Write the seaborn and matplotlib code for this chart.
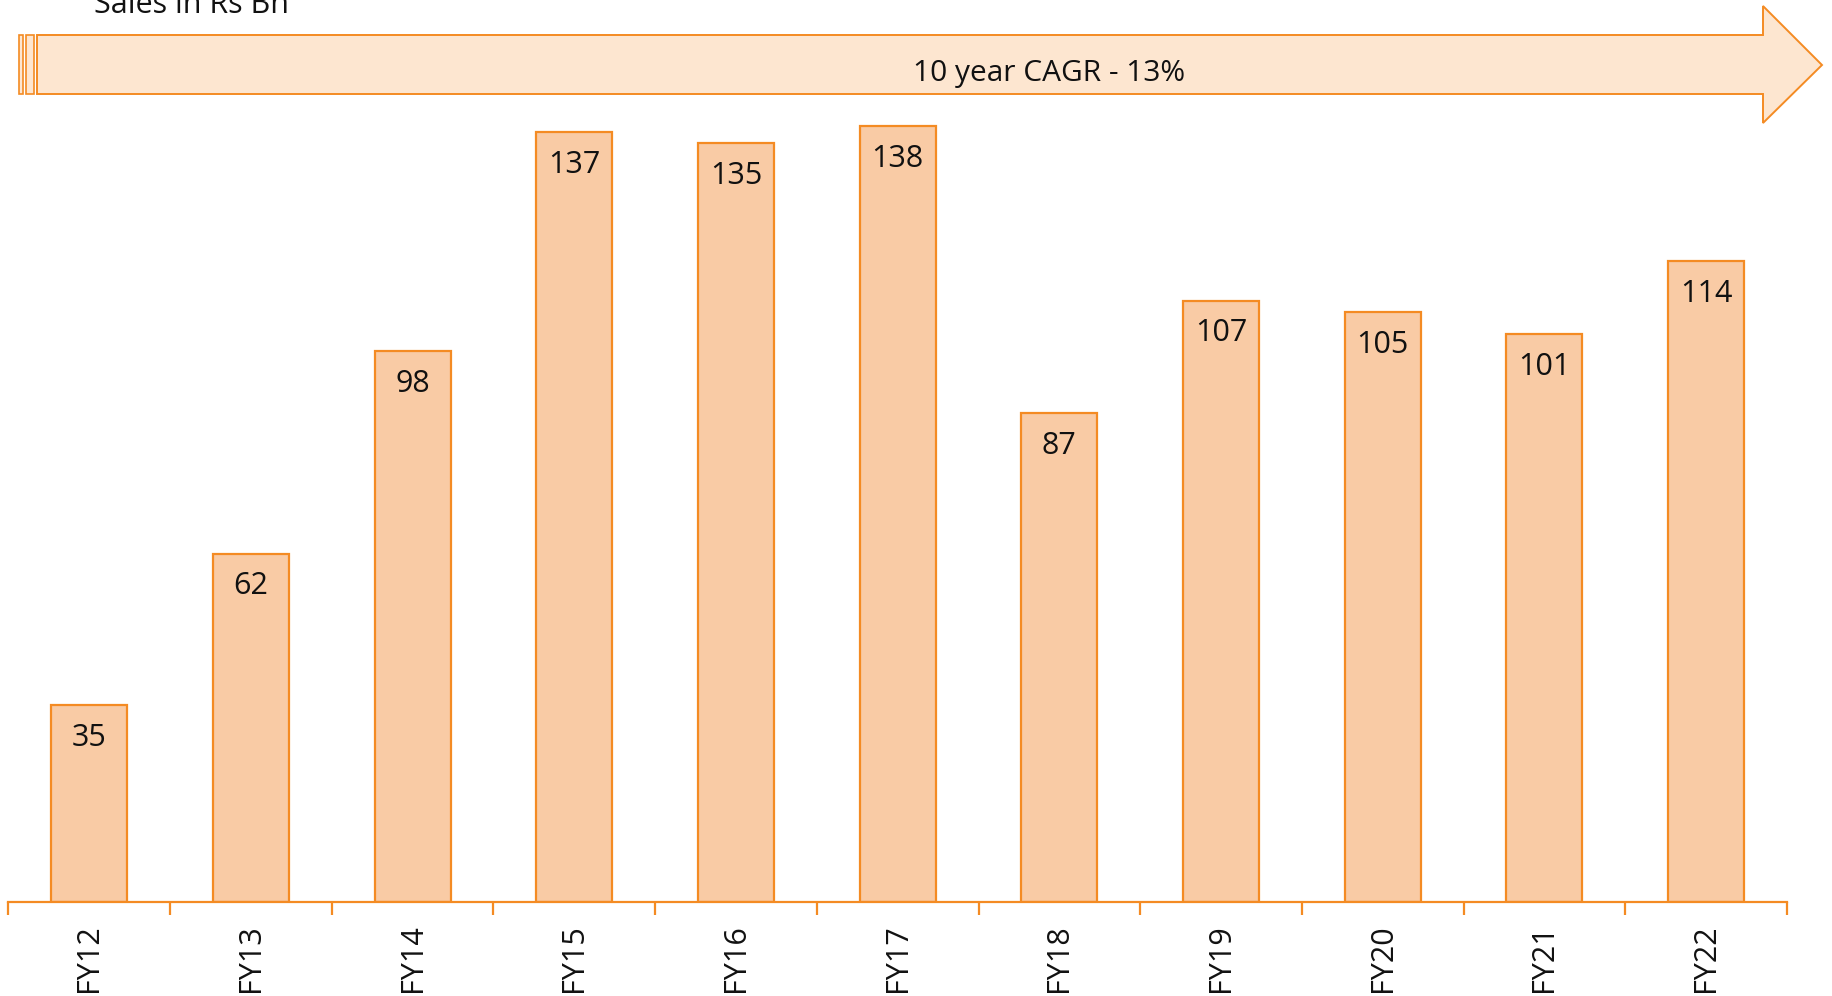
import matplotlib
matplotlib.use("Agg")
import matplotlib.pyplot as plt
import seaborn as sns
import pandas as pd
from matplotlib.patches import Polygon, Rectangle

categories = ["FY12", "FY13", "FY14", "FY15", "FY16", "FY17", "FY18", "FY19", "FY20", "FY21", "FY22"]
sales = [35, 62, 98, 137, 135, 138, 87, 107, 105, 101, 114]
title_text = "Sales in Rs Bn"
arrow_text = "10 year CAGR - 13%"

W, H = 1832, 996
sns.set_theme(style="white")
plt.rcParams['font.family'] = ['Open Sans', 'DejaVu Sans']

BAR_FILL = "#F9CBA5"
EDGE = "#F48B23"
ARROW_FILL = "#FDE6D0"

fig = plt.figure(figsize=(W / 100, H / 100), dpi=100)
ax = fig.add_axes([8.3 / W, (H - 902) / H, (1787 - 8.3) / W, 902 / H])

df = pd.DataFrame({"cat": categories, "val": sales})
sns.barplot(data=df, x="cat", y="val", ax=ax, width=0.47, color=BAR_FILL,
            edgecolor=EDGE, linewidth=1.6, saturation=1)

ax.set_xlim(-0.5, len(categories) - 0.5)
ax.set_ylim(0, 160.5)
ax.set_xlabel("")
ax.set_ylabel("")
ax.set_yticks([])
for s in ["top", "left", "right"]:
    ax.spines[s].set_visible(False)
ax.spines["bottom"].set_color(EDGE)
ax.spines["bottom"].set_linewidth(1.6)

# ticks at category boundaries, labels at centers
ax.set_xticks([i - 0.5 for i in range(len(categories) + 1)])
ax.set_xticklabels([])
ax.set_xticks(list(range(len(categories))), minor=True)
ax.set_xticklabels(categories, minor=True, rotation=90, fontsize=22, color="#111111")
ax.tick_params(axis="x", which="major", length=9, width=1.6, color=EDGE, bottom=True)
ax.tick_params(axis="x", which="minor", length=0, pad=16, bottom=True)

for i, v in enumerate(sales):
    ax.text(i, v - 5.8, str(v), ha="center", va="center", fontsize=22, color="#111111")

def px(x, y):
    return (x / W, 1 - y / H)

# arrow banner
arrow_pts = [px(37, 35), px(1763, 35), px(1763, 6), px(1822, 65),
             px(1763, 123), px(1763, 94), px(37, 94)]
fig.patches.append(Polygon(arrow_pts, closed=True, transform=fig.transFigure,
                           facecolor=ARROW_FILL, edgecolor=EDGE, linewidth=1.4))
for x0, x1 in [(18.7, 22.7), (26, 33.7)]:
    fig.patches.append(Rectangle(px(x0, 94), (x1 - x0) / W, 59 / H,
                                 transform=fig.transFigure, facecolor=ARROW_FILL,
                                 edgecolor=EDGE, linewidth=1.2))

fig.text(1049 / W, 1 - 81 / H, arrow_text, ha="center", va="baseline",
         fontsize=21.5, color="#111111")
fig.text(94 / W, 1 - 12.7 / H, title_text, ha="left", va="baseline",
         fontsize=22, color="#111111")

fig.savefig("out.png", dpi=100)
